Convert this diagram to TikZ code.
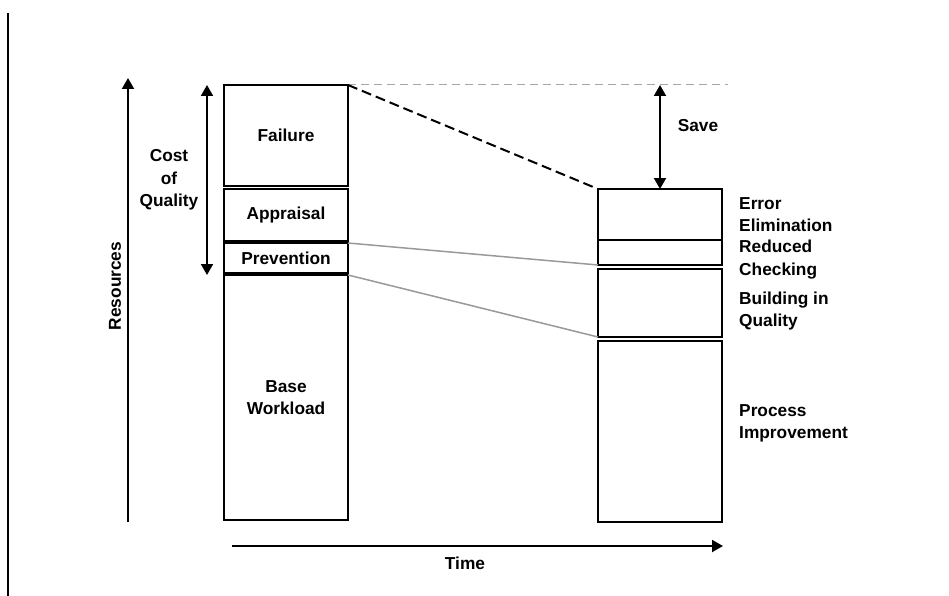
\documentclass[tikz,border=0pt]{standalone}
\usepackage{fontspec}
\setmainfont{Liberation Sans}
\usetikzlibrary{arrows.meta,positioning,calc}

\begin{document}
\begin{tikzpicture}[x=1pt, y=-1pt, font=\bfseries\fontsize{17.3}{22.5}\selectfont,
                    >={Triangle[length=11pt, width=12pt]}]
  \tikzset{blk/.style={draw, rectangle, line width=1.9pt, minimum width=124pt,
                       minimum height=#1, inner sep=0, outer sep=0, align=center},
           lbl/.style={align=left, anchor=west, inner sep=0},
           axis/.style={->, line width=2pt},
           link/.style={line width=1.5pt, black!40}}
  \useasboundingbox (0,0) rectangle (949,596);

  % frame edge on the left
  \coordinate (ft) at (8,13);
  \coordinate (fb) at (8,596);
  \draw[line width=1.4pt] (ft) -- (fb);

  % axes
  \coordinate (r0) at (128,522);
  \coordinate (r1) at (128,78);
  \coordinate (t0) at (232,546);
  \coordinate (t1) at (723,546);
  \draw[axis] (r0) -- (r1);
  \draw[axis] (t0) -- (t1);
  \node[rotate=90] (res) at (115,286) {Resources};
  \node (time) at (465,563) {Time};

  % before: cost of quality on top of the base workload
  \node[blk=101pt] (fail) at (286,135.5) {Failure};
  \node[blk=52pt]  (appr) at (286,215)   {Appraisal};
  \node[blk=30pt]  (prev) at (286,258)   {Prevention};
  \node[blk=245pt] (base) at (286,397.5) {Base\\Workload};

  \coordinate (cq0) at (207,85);
  \coordinate (cq1) at (207,275);
  \draw[<->, line width=2pt] (cq0) -- (cq1);
  \node[align=center] (cq) at (169,180) {Cost\\of\\Quality};

  % after: the shrunken column
  \node[blk=51pt]  (elim)  at (660,214.5) {};
  \node[blk=25pt]  (check) at (660,252.5) {};
  \node[blk=68pt]  (build) at (660,303)   {};
  \node[blk=181pt] (impr)  at (660,431.5) {};

  \node[lbl] (lElim)  at (739,214.5) {Error\\Elimination};
  \node[lbl] (lCheck) at (739,259.5) {Reduced\\Checking};
  \node[lbl] (lBuild) at (739,311)   {Building in\\Quality};
  \node[lbl] (lImpr)  at (739,423.5) {Process\\Improvement};

  % saving
  \coordinate (top) at (728,85);
  \coordinate (s0) at (660,85);
  \draw[black!35, line width=1pt, dash pattern=on 8pt off 5pt] (fail.north east) -- (top);
  \draw[line width=2pt, dash pattern=on 10pt off 5pt] (fail.north east) -- (elim.north west);
  \draw[<->, line width=2pt] (s0) -- (elim.north);
  \node (save) at (698,126) {Save};

  % where prevention goes
  \draw[link] (prev.north east) -- (check.south west);
  \draw[link] (base.north east) -- (build.south west);
\end{tikzpicture}
\end{document}
